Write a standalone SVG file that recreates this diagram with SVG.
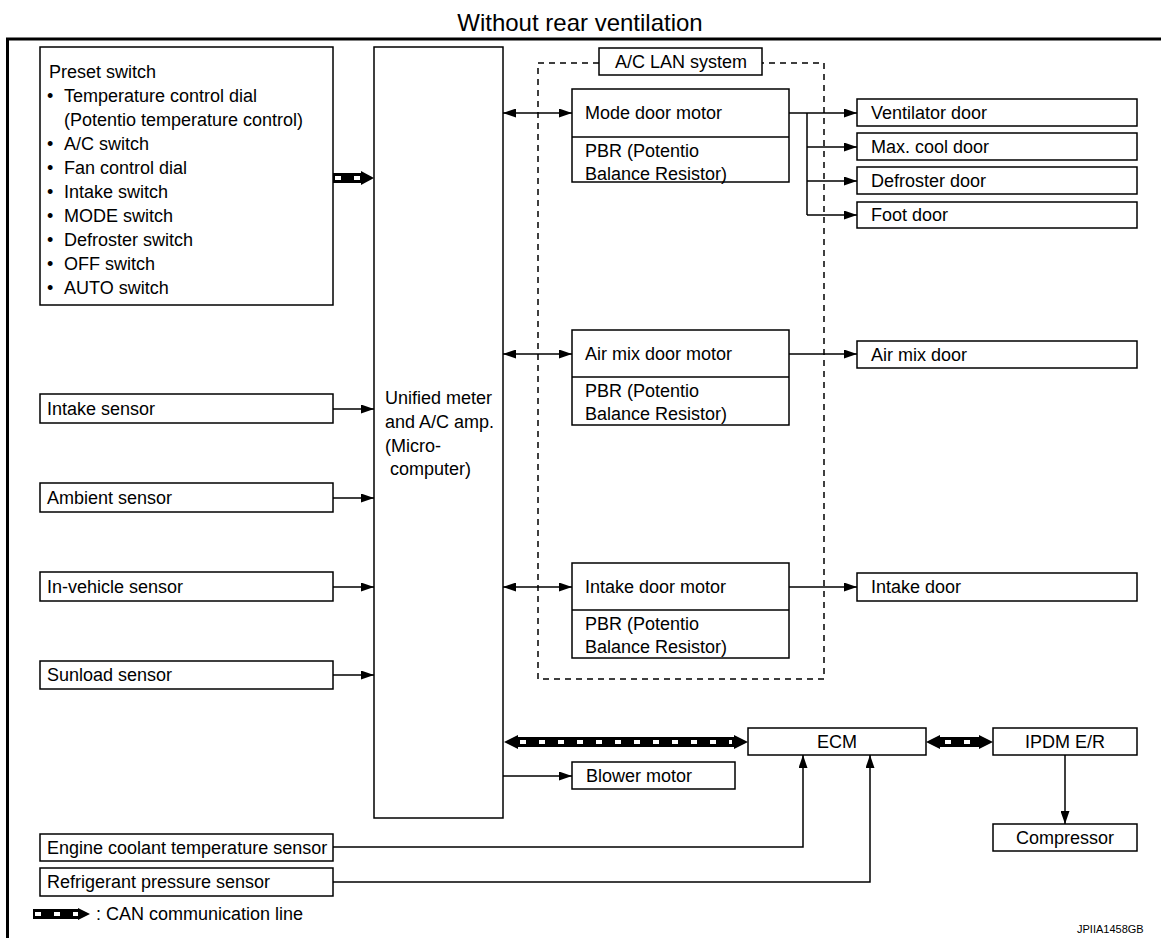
<svg xmlns="http://www.w3.org/2000/svg" width="1161" height="938" viewBox="0 0 1161 938">
<style>
text{font-family:"Liberation Sans",Arial,sans-serif;font-size:18px;fill:#000}
.c{text-anchor:middle}
.b{font-size:18px}
.box{fill:#fff;stroke:#000;stroke-width:1.5}
.ln{fill:none;stroke:#000;stroke-width:1.5}
.dash{fill:none;stroke:#000;stroke-width:1.5;stroke-dasharray:6 5}
.canb{stroke:#000;stroke-width:10;fill:none}
.canw{stroke:#fff;stroke-width:4;fill:none;stroke-dasharray:6 13}
</style>
<defs>
<marker id="ah" markerWidth="13" markerHeight="9" refX="13" refY="4.5" orient="auto" markerUnits="userSpaceOnUse"><path d="M0,0 L13,4.5 L0,9 Z" fill="#000"/></marker>
<marker id="ahs" markerWidth="13" markerHeight="9" refX="13" refY="4.5" orient="auto-start-reverse" markerUnits="userSpaceOnUse"><path d="M0,0 L13,4.5 L0,9 Z" fill="#000"/></marker>
</defs>
<rect width="1161" height="938" fill="#fff"/>
<text class="c" x="580" y="31" style="font-size:24px">Without rear ventilation</text>
<path d="M7.5,938 V39 H1161" fill="none" stroke="#000" stroke-width="3"/>

<g id="aclan">
<rect x="538" y="63" width="286" height="616" class="dash"/>
<rect x="599" y="48" width="163" height="27" class="box"/>
<text class="c" x="681" y="68">A/C LAN system</text>
</g>

<g id="preset">
<rect x="40" y="47" width="293" height="258" class="box"/>
<text x="49" y="78">Preset switch</text>
<text class="b" x="47" y="102">•</text><text x="64" y="102">Temperature control dial</text>
<text x="64" y="126">(Potentio temperature control)</text>
<text class="b" x="47" y="150">•</text><text x="64" y="150">A/C switch</text>
<text class="b" x="47" y="174">•</text><text x="64" y="174">Fan control dial</text>
<text class="b" x="47" y="198">•</text><text x="64" y="198">Intake switch</text>
<text class="b" x="47" y="222">•</text><text x="64" y="222">MODE switch</text>
<text class="b" x="47" y="246">•</text><text x="64" y="246">Defroster switch</text>
<text class="b" x="47" y="270">•</text><text x="64" y="270">OFF switch</text>
<text class="b" x="47" y="294">•</text><text x="64" y="294">AUTO switch</text>
</g>
<g id="unified">
<rect x="374" y="47" width="129" height="771" class="box"/>
<text x="385" y="404">Unified meter</text>
<text x="385" y="428">and A/C amp.</text>
<text x="385" y="452">(Micro-</text>
<text x="390" y="475">computer)</text>
</g>
<g id="intake-sensor"><rect x="40" y="394" width="293" height="29" class="box"/><text x="47" y="415">Intake sensor</text></g>
<g id="ambient-sensor"><rect x="40" y="483" width="293" height="29" class="box"/><text x="47" y="504">Ambient sensor</text></g>
<g id="invehicle-sensor"><rect x="40" y="572" width="293" height="29" class="box"/><text x="47" y="593">In-vehicle sensor</text></g>
<g id="sunload-sensor"><rect x="40" y="661" width="293" height="28" class="box"/><text x="47" y="681">Sunload sensor</text></g>
<g id="coolant-sensor"><rect x="40" y="834" width="293" height="27" class="box"/><text x="47" y="854">Engine coolant temperature sensor</text></g>
<g id="refrig-sensor"><rect x="40" y="868" width="293" height="28" class="box"/><text x="47" y="888">Refrigerant pressure sensor</text></g>

<g id="mode-motor">
<rect x="572" y="89" width="217" height="93" class="box"/>
<line x1="572" y1="137" x2="789" y2="137" class="ln"/>
<text x="585" y="119">Mode door motor</text>
<text x="585" y="157">PBR (Potentio</text>
<text x="585" y="180">Balance Resistor)</text>
</g>
<g id="airmix-motor">
<rect x="572" y="330" width="217" height="95" class="box"/>
<line x1="572" y1="377" x2="789" y2="377" class="ln"/>
<text x="585" y="360">Air mix door motor</text>
<text x="585" y="397">PBR (Potentio</text>
<text x="585" y="420">Balance Resistor)</text>
</g>
<g id="intake-motor">
<rect x="572" y="563" width="217" height="95" class="box"/>
<line x1="572" y1="610" x2="789" y2="610" class="ln"/>
<text x="585" y="593">Intake door motor</text>
<text x="585" y="630">PBR (Potentio</text>
<text x="585" y="653">Balance Resistor)</text>
</g>

<g id="ventilator-door"><rect x="857" y="99" width="280" height="27" class="box"/><text x="871" y="119">Ventilator door</text></g>
<g id="maxcool-door"><rect x="857" y="133" width="280" height="27" class="box"/><text x="871" y="153">Max. cool door</text></g>
<g id="defroster-door"><rect x="857" y="167" width="280" height="27" class="box"/><text x="871" y="187">Defroster door</text></g>
<g id="foot-door"><rect x="857" y="202" width="280" height="26" class="box"/><text x="871" y="221">Foot door</text></g>
<g id="airmix-door"><rect x="857" y="341" width="280" height="27" class="box"/><text x="871" y="361">Air mix door</text></g>
<g id="intake-door"><rect x="857" y="573" width="280" height="28" class="box"/><text x="871" y="593">Intake door</text></g>

<g id="ecm"><rect x="748" y="728" width="178" height="27" class="box"/><text class="c" x="837" y="748">ECM</text></g>
<g id="ipdm"><rect x="993" y="728" width="144" height="27" class="box"/><text class="c" x="1065" y="748">IPDM E/R</text></g>
<g id="compressor"><rect x="993" y="824" width="144" height="27" class="box"/><text class="c" x="1065" y="844">Compressor</text></g>
<g id="blower"><rect x="572" y="762" width="163" height="27" class="box"/><text x="586" y="782">Blower motor</text></g>

<g id="connectors">
<line x1="333" y1="409" x2="374" y2="409" class="ln" marker-end="url(#ah)"/>
<line x1="333" y1="498" x2="374" y2="498" class="ln" marker-end="url(#ah)"/>
<line x1="333" y1="587" x2="374" y2="587" class="ln" marker-end="url(#ah)"/>
<line x1="333" y1="675" x2="374" y2="675" class="ln" marker-end="url(#ah)"/>
<line x1="503" y1="113" x2="572" y2="113" class="ln" marker-start="url(#ahs)" marker-end="url(#ahs)"/>
<line x1="503" y1="354" x2="572" y2="354" class="ln" marker-start="url(#ahs)" marker-end="url(#ahs)"/>
<line x1="503" y1="587" x2="572" y2="587" class="ln" marker-start="url(#ahs)" marker-end="url(#ahs)"/>
<line x1="789" y1="113" x2="857" y2="113" class="ln" marker-end="url(#ah)"/>
<path d="M807,113 V215" class="ln"/>
<line x1="807" y1="147" x2="857" y2="147" class="ln" marker-end="url(#ah)"/>
<line x1="807" y1="181" x2="857" y2="181" class="ln" marker-end="url(#ah)"/>
<line x1="807" y1="215" x2="857" y2="215" class="ln" marker-end="url(#ah)"/>
<line x1="789" y1="354" x2="857" y2="354" class="ln" marker-end="url(#ah)"/>
<line x1="789" y1="587" x2="857" y2="587" class="ln" marker-end="url(#ah)"/>
<line x1="503" y1="776" x2="572" y2="776" class="ln" marker-end="url(#ah)"/>
<path d="M333,847 H803 V755" class="ln" marker-end="url(#ah)"/>
<path d="M333,882 H870 V755" class="ln" marker-end="url(#ah)"/>
<line x1="1065" y1="755" x2="1065" y2="824" class="ln" marker-end="url(#ah)"/>
<line x1="333" y1="178" x2="361" y2="178" class="canb"/>
<line x1="335" y1="178" x2="361" y2="178" class="canw" stroke-dasharray="7 10"/>
<path d="M361,171 L374,178 L361,185 Z"/>
<line x1="518" y1="742" x2="734" y2="742" class="canb"/>
<line x1="520" y1="742" x2="732" y2="742" class="canw"/>
<path d="M518,735 L504,742 L518,749 Z"/>
<path d="M734,735 L748,742 L734,749 Z"/>
<line x1="940" y1="742" x2="979" y2="742" class="canb"/>
<line x1="945" y1="742" x2="977" y2="742" class="canw" stroke-dasharray="6 14"/>
<path d="M940,735 L926,742 L940,749 Z"/>
<path d="M979,735 L993,742 L979,749 Z"/>
</g>

<g id="legend">
<line x1="33" y1="914" x2="78" y2="914" class="canb" stroke-width="8"/>
<line x1="35" y1="914" x2="78" y2="914" class="canw" stroke-width="4" stroke-dasharray="9 6"/>
<path d="M78,908 L90,914 L78,920 Z"/>
<text x="96" y="920">: CAN communication line</text>
</g>
<text x="1077" y="933" style="font-size:11px">JPIIA1458GB</text>
</svg>
